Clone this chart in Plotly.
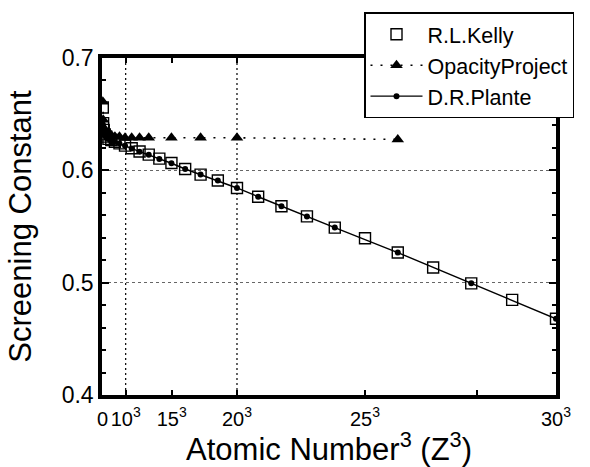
import plotly.graph_objects as go

# ---- data (atomic number Z, plotted against Z^3) ----
kelly_z = list(range(2, 31))
kelly_sigma = [0.656, 0.642, 0.636, 0.632, 0.630, 0.628, 0.627, 0.6255, 0.624,
               0.622, 0.6197, 0.6168, 0.614, 0.6104, 0.6065, 0.6012, 0.5962,
               0.5909, 0.5843, 0.5765, 0.568, 0.559, 0.549, 0.5395, 0.5268,
               0.5135, 0.4994, 0.4847, 0.4679]

opacity_z = [2, 3, 4, 5, 6, 7, 8, 9, 10, 11, 12, 13, 14, 16, 18, 20, 26]
opacity_sigma = [0.661, 0.645, 0.638, 0.635, 0.633, 0.632, 0.631, 0.630, 0.630,
                 0.629, 0.629, 0.629, 0.629, 0.629, 0.629, 0.629, 0.6275]

plante_z = list(range(2, 25)) + [26, 28, 30]
plante_sigma = [0.641, 0.636, 0.633, 0.631, 0.629, 0.628, 0.626, 0.6252, 0.6238,
                0.6218, 0.6195, 0.6166, 0.6138, 0.6102, 0.6063, 0.6012, 0.5962,
                0.5909, 0.5843, 0.5765, 0.568, 0.559, 0.549, 0.5268, 0.4994,
                0.4679]

# tick positions as drawn in the original figure (Z^3 units)
x_tickvals = [0, 1370, 4110, 8000, 15625, 22277, 27000]
x_ticktext = ["0", "10<sup>3</sup>", "15<sup>3</sup>", "20<sup>3</sup>",
              "25<sup>3</sup>", "", "30<sup>3</sup>"]
x_gridvals = [1370, 8000]
y_tickvals = [0.4, 0.5, 0.6, 0.7]
y_ticktext = ["0.4", "0.5", "0.6", "0.7"]

FONT = "Liberation Sans, Arial, Helvetica, sans-serif"

def cube(zs):
    return [z ** 3 for z in zs]

fig = go.Figure()

fig.add_trace(go.Scatter(
    x=cube(kelly_z), y=kelly_sigma, name="R.L.Kelly", mode="markers",
    marker=dict(symbol="square-open", size=11, color="black",
                line=dict(width=1.4, color="black"))))

fig.add_trace(go.Scatter(
    x=cube(opacity_z), y=opacity_sigma, name="OpacityProject",
    mode="lines+markers",
    line=dict(color="black", width=1.6, dash="2px,8px"),
    marker=dict(symbol="triangle-up", size=11, color="black")))

fig.add_trace(go.Scatter(
    x=cube(plante_z), y=plante_sigma, name="D.R.Plante",
    mode="lines+markers",
    line=dict(color="black", width=1.4),
    marker=dict(symbol="circle", size=6, color="black")))

for gx in x_gridvals:
    fig.add_shape(type="line", xref="x", yref="y", x0=gx, x1=gx, y0=0.4, y1=0.7,
                  line=dict(color="black", width=1.2, dash="2px,3px"),
                  layer="below")

fig.update_layout(
    width=590, height=467,
    margin=dict(l=102, r=34, t=56, b=72, pad=0),
    paper_bgcolor="white", plot_bgcolor="white",
    font=dict(family=FONT, color="black"),
    showlegend=True,
    legend=dict(
        x=0.5771, y=1.1357, xanchor="left", yanchor="top",
        bgcolor="white", bordercolor="black", borderwidth=1.5,
        font=dict(size=21.5, family=FONT, color="black"),
        itemwidth=52, traceorder="normal", tracegroupgap=0,
    ),
    xaxis=dict(
        range=[-40, 27000], automargin=False,
        tickmode="array", tickvals=x_tickvals, ticktext=x_ticktext,
        tickangle=0, ticklabelstandoff=3,
        ticks="inside", ticklen=5, tickwidth=1.5, tickcolor="black",
        showline=True, linewidth=3.5, linecolor="black", mirror="allticks",
        showgrid=False, zeroline=False,
        tickfont=dict(size=20, family=FONT),
        title=dict(text="Atomic Number<sup>3</sup> (Z<sup>3</sup>)",
                   font=dict(size=31, family=FONT), standoff=2),
    ),
    yaxis=dict(
        range=[0.4, 0.7], automargin=False,
        tickmode="array", tickvals=y_tickvals, ticktext=y_ticktext,
        ticks="inside", ticklen=7, tickwidth=1.5, tickcolor="black",
        minor=dict(dtick=0.02, tick0=0.4, ticks="inside", ticklen=4,
                   tickwidth=1.5, tickcolor="black", showgrid=False),
        showline=True, linewidth=3.5, linecolor="black", mirror="allticks",
        showgrid=True, gridcolor="#666666", gridwidth=1, griddash="dot",
        zeroline=False,
        tickfont=dict(size=23, family=FONT),
        title=dict(text="Screening Constant",
                   font=dict(size=31, family=FONT), standoff=22),
    ),
)

fig.write_html("out.html")
